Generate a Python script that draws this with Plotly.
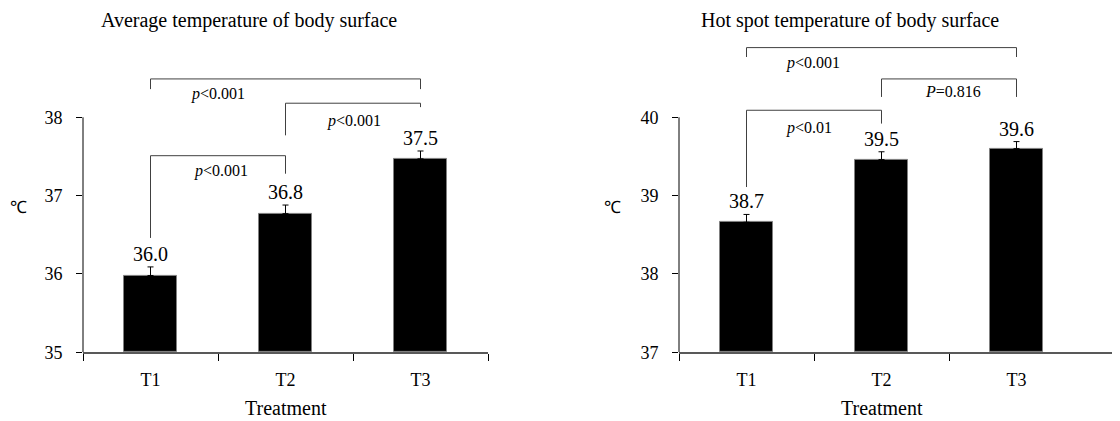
import plotly.graph_objects as go

categories = ["T1", "T2", "T3"]
avg_means = [35.98, 36.77, 37.47]
avg_err = [0.11, 0.11, 0.10]
hot_means = [38.66, 39.46, 39.60]
hot_err = [0.10, 0.10, 0.09]

titles = ["Average temperature of body surface", "Hot spot temperature of body surface"]
y_ticks_avg = [35, 36, 37, 38]
y_ticks_hot = [37, 38, 39, 40]

# brackets: (from_idx, to_idx, y_top, y_leg_from, y_leg_to, label, label_x, label_y)
avg_brackets = [
    (0, 2, 38.49, 38.36, 38.36, "<i>p</i>&lt;0.001", 0.50, 38.30),
    (1, 2, 38.18, 37.77, 38.13, "<i>p</i>&lt;0.001", 1.51, 37.95),
    (0, 1, 37.51, 36.46, 37.28, "<i>p</i>&lt;0.001", 0.52, 37.31),
]
hot_brackets = [
    (0, 2, 40.89, 40.77, 40.77, "<i>p</i>&lt;0.001", 0.49, 40.69),
    (1, 2, 40.49, 40.26, 40.26, "<i>P</i>=0.816", 1.53, 40.33),
    (0, 1, 40.09, 39.11, 39.92, "<i>p</i>&lt;0.01", 0.46, 39.86),
]

FONT = "Liberation Serif, Times New Roman, serif"
W, H = 1120, 421
OFF = 8  # page body margin


def px(xp):
    return (xp - OFF) / W


def py(yp):
    return 1 - (yp - OFF) / H


xpos = list(range(len(categories)))
fig = go.Figure()

panels = [
    ("x", "y", avg_means, avg_err, y_ticks_avg, avg_brackets),
    ("x2", "y2", hot_means, hot_err, y_ticks_hot, hot_brackets),
]

shapes = []
annotations = []
for xa, ya, means, errs, yt, brackets in panels:
    fig.add_trace(go.Bar(
        x=xpos, y=[m - yt[0] for m in means], base=yt[0],
        xaxis=xa, yaxis=ya, width=0.39,
        marker=dict(color="black", line=dict(color="#808080", width=1)),
        error_y=dict(type="data", array=errs, arrayminus=[0] * len(errs), symmetric=False,
                     color="black", thickness=1, width=3),
        showlegend=False, hoverinfo="skip",
    ))
    for i, (m, e) in enumerate(zip(means, errs)):
        annotations.append(dict(x=i, y=m + e, xref=xa, yref=ya, text=f"{m:.1f}",
                                showarrow=False, xanchor="center", yanchor="bottom", yshift=0,
                                font=dict(family=FONT, size=20, color="black")))
    shapes.append(dict(type="line", xref=f"{xa} domain", yref=ya, x0=0, x1=0,
                       y0=yt[0], y1=yt[-1], line=dict(color="black", width=1)))
    for a, b, ytop, yla, ylb, txt, tx, ty in brackets:
        shapes.append(dict(type="path", xref=xa, yref=ya,
                           path=f"M {a},{yla} L {a},{ytop} L {b},{ytop} L {b},{ylb}",
                           line=dict(color="#404040", width=1)))
        annotations.append(dict(x=tx, y=ty, xref=xa, yref=ya, text=txt, showarrow=False,
                                xanchor="center", yanchor="middle",
                                font=dict(family=FONT, size=16, color="black")))

for xc, t in zip([249, 850], titles):
    annotations.append(dict(x=px(xc), y=py(21), xref="paper", yref="paper", text=t,
                            showarrow=False, xanchor="center", yanchor="middle",
                            font=dict(family=FONT, size=20, color="black")))
for xa in ["x", "x2"]:
    annotations.append(dict(x=1, y=py(408), xref=xa, yref="paper", text="Treatment",
                            showarrow=False, xanchor="center", yanchor="middle",
                            font=dict(family=FONT, size=20, color="black")))
for xc in [18, 612]:
    annotations.append(dict(x=px(xc), y=py(207), xref="paper", yref="paper", text="℃",
                            showarrow=False, xanchor="center", yanchor="middle",
                            font=dict(family=FONT, size=17, color="black")))

ydom = [py(352.3), py(42.9)]


def xaxis_style(boundaries):
    return dict(
        tickmode="array", tickvals=xpos, ticktext=categories, ticks="",
        showline=True, linecolor="#595959", linewidth=1.5, showgrid=False, zeroline=False,
        tickfont=dict(family=FONT, size=18, color="black"), ticklabelstandoff=10,
        minor=dict(tickmode="array", tickvals=boundaries, ticks="outside",
                   ticklen=7, tickcolor="black", tickwidth=1, showgrid=False),
    )


ycommon = dict(
    tickmode="array", ticks="outside", ticklen=6, tickcolor="black", tickwidth=1,
    showline=False, showgrid=False, zeroline=False,
    tickfont=dict(family=FONT, size=18, color="black"), ticklabelstandoff=10,
)

right_end = W + OFF
fig.update_layout(
    width=W, height=H, margin=dict(l=0, r=0, t=0, b=0, autoexpand=False),
    paper_bgcolor="white", plot_bgcolor="white", bargap=0,
    xaxis=dict(domain=[px(83), px(488)], range=[-0.5, 2.5], anchor="y",
               **xaxis_style([-0.5, 0.5, 1.5, 2.5])),
    yaxis=dict(domain=ydom, range=[35, 38.95], tickvals=y_ticks_avg, anchor="x", **ycommon),
    xaxis2=dict(domain=[px(679), 1.0], range=[-0.5, -0.5 + (right_end - 679) / 135],
                anchor="y2", **xaxis_style([-0.5, 0.5, 1.5])),
    yaxis2=dict(domain=ydom, range=[37, 40.95], tickvals=y_ticks_hot, anchor="x2", **ycommon),
    shapes=shapes, annotations=annotations,
)

fig.write_html("out.html")
